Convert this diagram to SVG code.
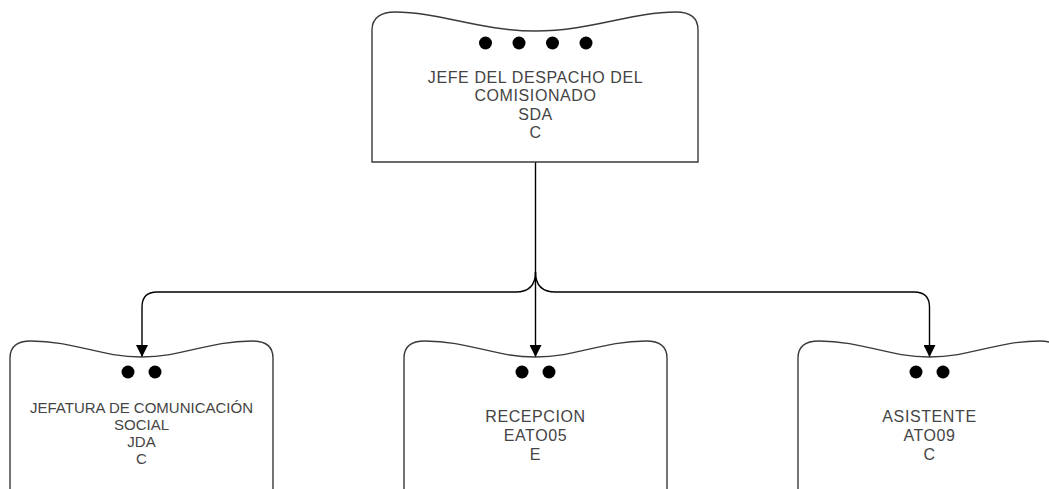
<svg xmlns="http://www.w3.org/2000/svg" width="1049" height="489" viewBox="0 0 1049 489">
<style>
.box{fill:#fff;stroke:#3a3a3a;stroke-width:1.4}
.dot{fill:#000}
.t{font-family:"Liberation Sans",Arial,sans-serif;font-size:16px;letter-spacing:0.6px;fill:#444;text-anchor:middle}
.ts{font-family:"Liberation Sans",Arial,sans-serif;font-size:15px;fill:#444;text-anchor:middle}
.c{fill:none;stroke:#000;stroke-width:1.4}
</style>
<defs>
<marker id="arr" viewBox="0 0 12 12" refX="12" refY="6" markerWidth="12" markerHeight="12" markerUnits="userSpaceOnUse" orient="auto">
<path d="M0,0 L12,6 L0,12 Z" fill="#000"/>
</marker>
</defs>
<rect width="1049" height="489" fill="#fff"/>
<g id="connectors">
<path class="c" d="M535.5,162 V357" marker-end="url(#arr)"/>
<path class="c" d="M535.5,272 Q535.5,292 515.5,292 H157 Q142,292 142,307 V357" marker-end="url(#arr)"/>
<path class="c" d="M535.5,272 Q535.5,292 555.5,292 H914 Q929.5,292 929.5,307 V357" marker-end="url(#arr)"/>
</g>
<g id="n0">
<path class="box" d="M372,162 V30 C372,17 382,12 395,12 C440,12 480,31 535.5,31 C591,31 631,12 676,12 C689,12 698,17 698,30 V162 Z"/>
<circle class="dot" cx="485.5" cy="43" r="6.5"/>
<circle class="dot" cx="519" cy="43" r="6.5"/>
<circle class="dot" cx="552.5" cy="43" r="6.5"/>
<circle class="dot" cx="586" cy="43" r="6.5"/>
<text class="t" x="535.5" y="83">JEFE DEL DESPACHO DEL</text>
<text class="t" x="535.5" y="101">COMISIONADO</text>
<text class="t" x="535.5" y="120">SDA</text>
<text class="t" x="535.5" y="138">C</text>
</g>
<g id="n1">
<path class="box" d="M10,500 V358 C10,346 18,341 31,341 C75,341 100,357 141.5,357 C183,357 208,341 252,341 C265,341 273,346 273,358 V500 Z"/>
<circle class="dot" cx="128" cy="372" r="6.5"/>
<circle class="dot" cx="155" cy="372" r="6.5"/>
<text class="ts" x="141.5" y="412.7" textLength="223" lengthAdjust="spacingAndGlyphs">JEFATURA DE COMUNICACIÓN</text>
<text class="ts" x="141.5" y="430">SOCIAL</text>
<text class="ts" x="141.5" y="447">JDA</text>
<text class="ts" x="141.5" y="464">C</text>
</g>
<g id="n2">
<path class="box" d="M404,500 V358 C404,346 412,341 425,341 C469,341 494,357 535.5,357 C577,357 602,341 646,341 C659,341 667,346 667,358 V500 Z"/>
<circle class="dot" cx="522" cy="372" r="6.5"/>
<circle class="dot" cx="549" cy="372" r="6.5"/>
<text class="t" x="535.5" y="421.5">RECEPCION</text>
<text class="t" x="535.5" y="440.5">EATO05</text>
<text class="t" x="535.5" y="459.5">E</text>
</g>
<g id="n3">
<path class="box" d="M798,500 V358 C798,346 806,341 819,341 C863,341 888,357 929.5,357 C971,357 996,341 1040,341 C1053,341 1061,346 1061,358 V500 Z"/>
<circle class="dot" cx="916" cy="372" r="6.5"/>
<circle class="dot" cx="943" cy="372" r="6.5"/>
<text class="t" x="929.5" y="421.5">ASISTENTE</text>
<text class="t" x="929.5" y="440.5">ATO09</text>
<text class="t" x="929.5" y="459.5">C</text>
</g>
</svg>
